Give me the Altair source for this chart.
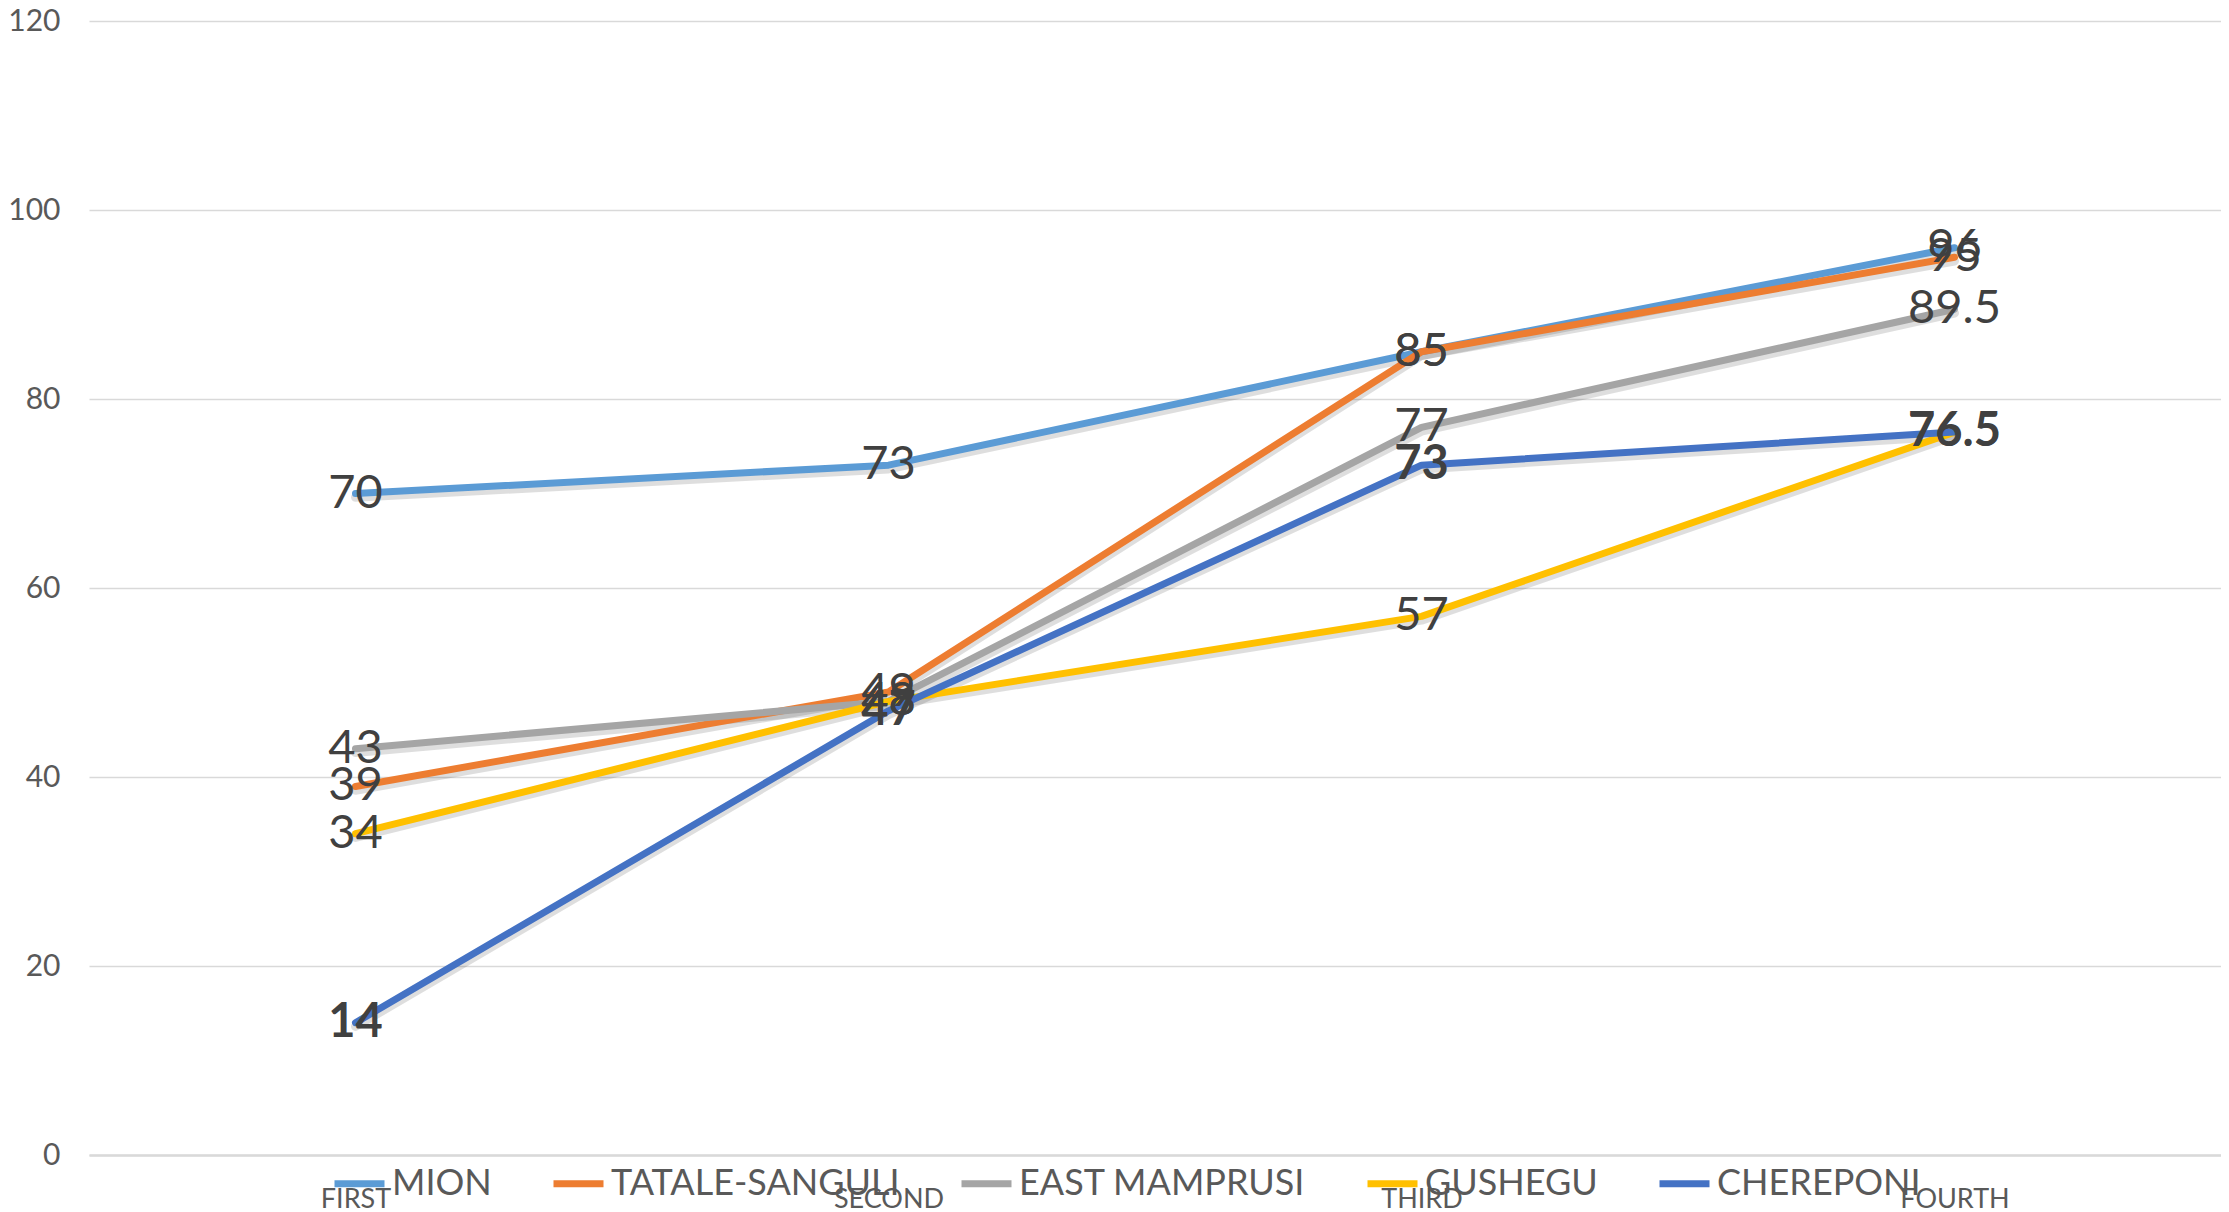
import altair as alt
import pandas as pd

categories = ["FIRST", "SECOND", "THIRD", "FOURTH"]
series_names = ["MION", "TATALE-SANGULI", "EAST MAMPRUSI", "GUSHEGU", "CHEREPONI"]
mion = [70, 73, 85, 96]
tatale = [39, 49, 85, 95]
east = [43, 48, 77, 89.5]
gushegu = [34, 48, 57, 76.5]
chereponi = [14, 47, 73, 76.5]
colors = ["#5B9BD5", "#ED7D31", "#A5A5A5", "#FFC000", "#4472C4"]
y_ticks = [0, 20, 40, 60, 80, 100, 120]

rows = []
for i, (name, vals) in enumerate(zip(series_names, [mion, tatale, east, gushegu, chereponi])):
    for c, v in zip(categories, vals):
        rows.append({"category": c, "series": name, "value": v, "idx": i,
                     "label": (f"{v:g}")})
df = pd.DataFrame(rows)

FONT = "Lato"

yscale = alt.Scale(domain=[0, 120], nice=False)
yaxis = alt.Axis(title=None, values=y_ticks, gridColor="#D9D9D9", gridWidth=1.5,
                 domain=False, ticks=False, labelFontSize=30, labelColor="#595959",
                 labelPadding=29, labelFont=FONT)

x = alt.X("category:N", sort=categories,
          scale=alt.Scale(type="point", padding=0.5),
          axis=alt.Axis(title=None, labelAngle=0, labelFontSize=27, labelColor="#595959",
                        labelPadding=31, ticks=False, domainColor="#D9D9D9", domainWidth=2.5,
                        labelFont=FONT, grid=False))
y = alt.Y("value:Q", scale=yscale, axis=yaxis)

color = alt.Color("series:N", sort=series_names,
                  scale=alt.Scale(domain=series_names, range=colors),
                  legend=alt.Legend(title=None, orient="none", legendX=242, legendY=1134,
                                    direction="horizontal", columns=5, symbolType="stroke",
                                    symbolStrokeWidth=7, symbolSize=2500, labelFontSize=36,
                                    labelColor="#595959", labelFont=FONT, columnPadding=47,
                                    labelOffset=4, padding=0, labelLimit=0))

base = alt.Chart(df)

shadow = base.transform_calculate(ys="datum.value - 0.4").mark_line(
    strokeWidth=9, opacity=0.13, color="#000000", strokeCap="round", strokeJoin="round"
).encode(x=x, y=alt.Y("ys:Q", scale=yscale, axis=yaxis), detail="series:N")

lines = base.mark_line(strokeWidth=7, strokeCap="round", strokeJoin="round").encode(
    x=x, y=y, color=color, order="idx:Q")

labels_normal = base.transform_filter("datum.series != 'CHEREPONI'").mark_text(
    fontSize=47, font=FONT, color="#404040", align="center", baseline="middle"
).encode(x=x, y=y, text="label:N")

labels_bold = base.transform_filter("datum.series == 'CHEREPONI'").mark_text(
    fontSize=47, font=FONT, color="#404040", align="center", baseline="middle", fontWeight="bold"
).encode(x=x, y=y, text="label:N")

chart = alt.layer(shadow, lines, labels_normal, labels_bold).properties(
    width=2132, height=1134,
    autosize=alt.AutoSizeParams(type="none"),
    padding={"left": 81, "top": 13, "right": 0, "bottom": 55},
    background="white",
).configure_view(stroke=None)

chart.save("out.html", embed_options={"renderer": "svg", "actions": False})
